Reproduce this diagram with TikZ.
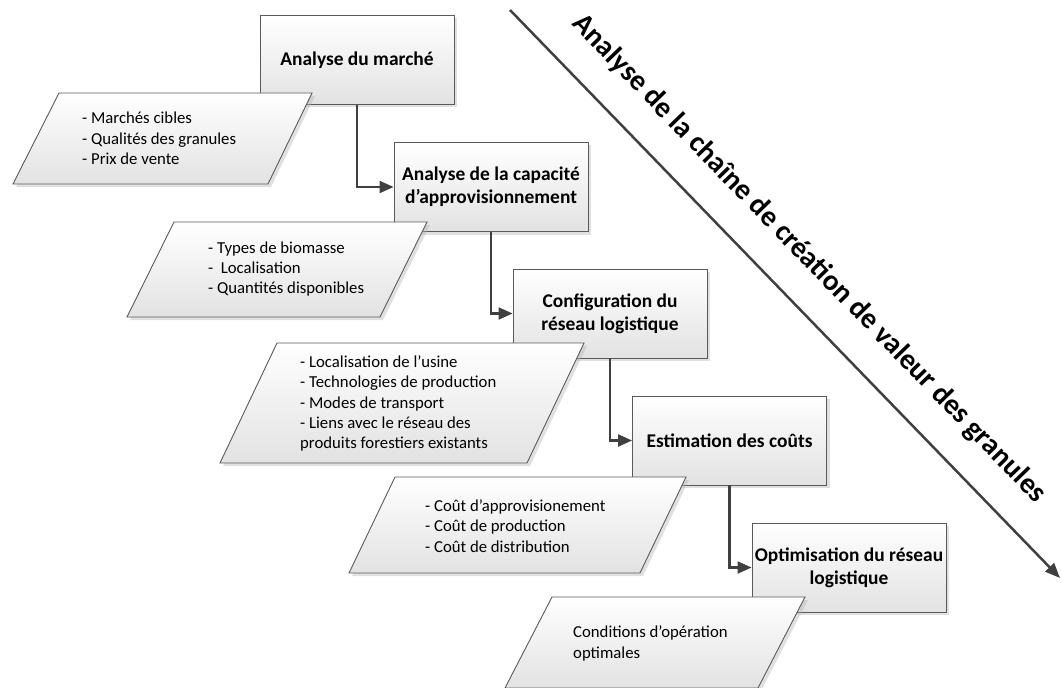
\documentclass[tikz,border=0pt]{standalone}
\usepackage{fontspec}
\setmainfont{Carlito}
\usetikzlibrary{arrows.meta,shadows,calc}
\definecolor{edgecol}{HTML}{5A5A5A}
\definecolor{conncol}{HTML}{404040}
\definecolor{fillbot}{HTML}{E2E2E2}
\tikzset{
  shadowed/.style={drop shadow={shadow xshift=3bp, shadow yshift=-3bp, fill=black!30, opacity=.4}},
  stepbox/.style={draw=edgecol, line width=0.9bp, top color=white, bottom color=fillbot,
    minimum width=194bp, minimum height=89bp, inner sep=0pt, align=center,
    font=\fontsize{19.5}{23}\selectfont\bfseries, shadowed},
  para/.style={draw=edgecol, line width=0.9bp, top color=white, bottom color=fillbot, shadowed},
  listtext/.style={anchor=west, align=left, inner sep=0pt, font=\fontsize{16.8}{20.5}\selectfont},
  flow/.style={draw=conncol, line width=2.2bp, -{Triangle[length=14bp,width=12bp]}},
  diag/.style={draw=conncol, line width=2.5bp, -{Triangle[length=15bp,width=12bp]}},
  diagtext/.style={font=\fontsize{29.3}{33}\selectfont\bfseries, text=black, inner sep=0pt}
}
\begin{document}
\begin{tikzpicture}[x=1bp,y=-1bp]
\useasboundingbox (0,0) rectangle (1062,688);

% diagonal axis
\coordinate (d1) at (510,10);
\coordinate (d2) at (1060,578);
\draw[diag] (d1) -- (d2);
\node[diagtext, rotate=-45.9] (axis) at (809,259) {Analyse de la chaîne de création de valeur des granules};

% step boxes
\node[stepbox] (b1) at (357,60) {Analyse du marché};
\node[stepbox] (b2) at (491,187) {Analyse de la capacité\\d’approvisionnement};
\node[stepbox] (b3) at (610,313.5) {Configuration du\\réseau logistique};
\node[stepbox] (b4) at (729.5,440.5) {Estimation des coûts};
\node[stepbox] (b5) at (849,567.5) {Optimisation du réseau\\logistique};

% connectors
\draw[flow] (b1.south) |- (b2.west);
\draw[flow] (b2.south) |- (b3.west);
\draw[flow] (b3.south) |- (b4.west);
\draw[flow] (b4.south) |- (b5.west);

% parallelograms
\path[para] (59,93) -- (312,93) -- (268,184) -- (13,184) -- cycle;
\node[listtext] (t1) at (82,138.5) {- Marchés cibles\\- Qualités des granules\\- Prix de vente};

\path[para] (174,222) -- (427,222) -- (380,317) -- (127,317) -- cycle;
\node[listtext] (t2) at (208,269) {- Types de biomasse\\-~ Localisation\\- Quantités disponibles};

\path[para] (277,343) -- (584,343) -- (527,463) -- (220,463) -- cycle;
\node[listtext] (t3) at (300,403.5) {- Localisation de l’usine\\- Technologies de production\\- Modes de transport\\- Liens avec le réseau des\\produits forestiers existants};

\path[para] (395,477) -- (686,477) -- (640,573) -- (349,573) -- cycle;
\node[listtext] (t4) at (425,526) {- Coût d’approvisionement\\- Coût de production\\- Coût de distribution};

\path[para] (552,597) -- (805,597) -- (758,688) -- (505,688) -- cycle;
\node[listtext] (t5) at (573,643.5) {Conditions d’opération\\optimales};
\end{tikzpicture}
\end{document}
